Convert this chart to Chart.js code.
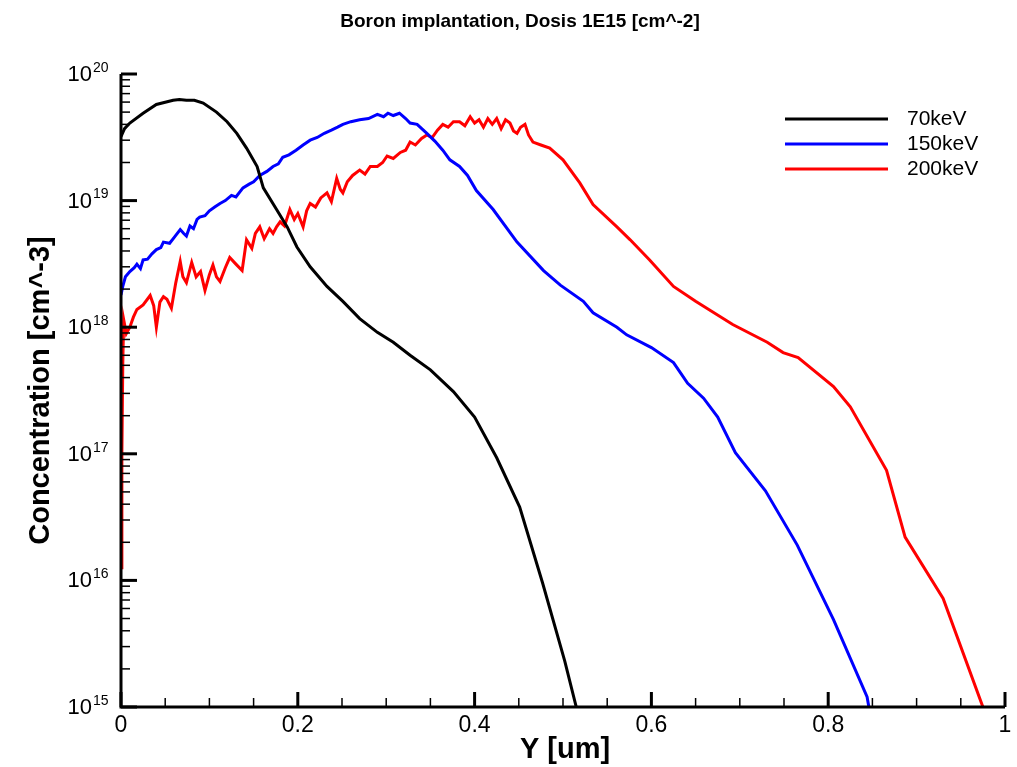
<!DOCTYPE html>
<html>
<head>
<meta charset="utf-8">
<title>Boron implantation</title>
<script src="https://cdn.jsdelivr.net/npm/chart.js@4.4.0/dist/chart.umd.min.js"></script>
<style>
  html, body { margin: 0; padding: 0; background: #fff; }
  canvas { display: block; }
</style>
</head>
<body>
<canvas id="profile-chart" width="1017" height="767"></canvas>
<script>
// depth Y [um] and concentration [cm^-3]
const depth70 = [0, 0.004, 0.01, 0.025, 0.04, 0.059, 0.066, 0.074, 0.083, 0.093, 0.108, 0.12, 0.131, 0.142, 0.154, 0.161, 0.176, 0.188, 0.199, 0.214, 0.233, 0.251, 0.27, 0.29, 0.308, 0.327, 0.35, 0.376, 0.40, 0.425, 0.451, 0.477, 0.502, 0.515];
const conc70 = [3.2e19, 3.7e19, 4.1e19, 4.9e19, 5.75e19, 6.2e19, 6.3e19, 6.2e19, 6.2e19, 5.9e19, 5.0e19, 4.2e19, 3.4e19, 2.6e19, 1.86e19, 1.26e19, 8.5e18, 6.2e18, 4.3e18, 3.0e18, 2.1e18, 1.6e18, 1.17e18, 9.1e17, 7.6e17, 6.0e17, 4.6e17, 3.1e17, 1.95e17, 9.3e16, 3.8e16, 9.5e15, 2.3e15, 1.0e15];

const depth150 = [0, 0.002, 0.005, 0.01, 0.015, 0.018, 0.022, 0.025, 0.03, 0.035, 0.04, 0.045, 0.048, 0.055, 0.06, 0.067, 0.071, 0.074, 0.078, 0.082, 0.086, 0.089, 0.095, 0.1, 0.106, 0.112, 0.118, 0.125, 0.13, 0.138, 0.145, 0.15, 0.157, 0.165, 0.172, 0.178, 0.183, 0.19, 0.198, 0.206, 0.214, 0.222, 0.23, 0.238, 0.245, 0.251, 0.26, 0.27, 0.28, 0.29, 0.297, 0.302, 0.308, 0.315, 0.322, 0.327, 0.335, 0.346, 0.355, 0.364, 0.372, 0.383, 0.392, 0.402, 0.421, 0.448, 0.478, 0.497, 0.523, 0.534, 0.561, 0.572, 0.6, 0.625, 0.641, 0.659, 0.675, 0.695, 0.729, 0.765, 0.806, 0.844, 0.846];
const conc150 = [1.8e18, 2.1e18, 2.5e18, 2.75e18, 2.95e18, 3.15e18, 2.9e18, 3.4e18, 3.45e18, 3.8e18, 4.1e18, 4.25e18, 4.7e18, 4.6e18, 5.1e18, 5.9e18, 5.5e18, 5.25e18, 6.3e18, 6.0e18, 7.1e18, 7.4e18, 7.6e18, 8.3e18, 8.9e18, 9.5e18, 1.0e19, 1.1e19, 1.07e19, 1.26e19, 1.35e19, 1.41e19, 1.58e19, 1.7e19, 1.86e19, 1.95e19, 2.2e19, 2.3e19, 2.5e19, 2.75e19, 3.0e19, 3.15e19, 3.4e19, 3.6e19, 3.8e19, 4.0e19, 4.2e19, 4.35e19, 4.45e19, 4.8e19, 4.6e19, 4.9e19, 4.7e19, 4.9e19, 4.45e19, 4.1e19, 4.0e19, 3.4e19, 2.95e19, 2.5e19, 2.1e19, 1.86e19, 1.58e19, 1.2e19, 8.5e18, 4.7e18, 2.8e18, 2.15e18, 1.6e18, 1.3e18, 1.0e18, 8.7e17, 6.9e17, 5.25e17, 3.6e17, 2.75e17, 1.95e17, 1.02e17, 5.1e16, 1.9e16, 4.9e15, 1.2e15, 1.0e15];

const depth200 = [0, 0.001, 0.002, 0.003, 0.006, 0.01, 0.014, 0.018, 0.025, 0.033, 0.037, 0.04, 0.044, 0.048, 0.052, 0.057, 0.062, 0.067, 0.07, 0.074, 0.08, 0.085, 0.09, 0.095, 0.1, 0.104, 0.108, 0.112, 0.118, 0.123, 0.13, 0.137, 0.142, 0.148, 0.152, 0.157, 0.162, 0.168, 0.172, 0.176, 0.18, 0.185, 0.191, 0.196, 0.2, 0.206, 0.21, 0.214, 0.22, 0.226, 0.233, 0.238, 0.244, 0.248, 0.251, 0.256, 0.262, 0.27, 0.276, 0.282, 0.29, 0.296, 0.301, 0.308, 0.316, 0.322, 0.327, 0.333, 0.34, 0.346, 0.352, 0.358, 0.364, 0.37, 0.376, 0.383, 0.389, 0.395, 0.4, 0.405, 0.41, 0.415, 0.42, 0.425, 0.43, 0.435, 0.44, 0.444, 0.448, 0.452, 0.457, 0.461, 0.466, 0.475, 0.485, 0.5, 0.519, 0.534, 0.561, 0.576, 0.598, 0.625, 0.65, 0.692, 0.731, 0.749, 0.766, 0.806, 0.825, 0.866, 0.887, 0.93, 0.975];
const conc200 = [1.26e16, 1.0e17, 5.0e17, 1.15e18, 8.9e17, 1.0e18, 1.2e18, 1.38e18, 1.5e18, 1.78e18, 1.48e18, 1.0e18, 1.58e18, 1.74e18, 1.66e18, 1.41e18, 2.25e18, 3.3e18, 2.5e18, 2.25e18, 3.25e18, 2.5e18, 2.75e18, 1.95e18, 2.6e18, 3.1e18, 2.5e18, 2.3e18, 2.95e18, 3.55e18, 3.15e18, 2.8e18, 4.9e18, 4.2e18, 5.5e18, 6.2e18, 5.0e18, 6.0e18, 5.5e18, 6.2e18, 6.8e18, 6.3e18, 8.5e18, 7.1e18, 7.9e18, 6.2e18, 8.3e18, 9.5e18, 8.9e18, 1.05e19, 1.15e19, 9.8e18, 1.5e19, 1.23e19, 1.15e19, 1.41e19, 1.58e19, 1.74e19, 1.62e19, 1.86e19, 1.86e19, 2.0e19, 2.25e19, 2.15e19, 2.4e19, 2.5e19, 2.9e19, 2.75e19, 3.1e19, 3.3e19, 3.15e19, 3.6e19, 4.0e19, 3.8e19, 4.2e19, 4.2e19, 3.9e19, 4.6e19, 4.1e19, 4.35e19, 3.8e19, 4.45e19, 4.0e19, 4.45e19, 3.7e19, 4.35e19, 4.1e19, 3.55e19, 3.4e19, 3.8e19, 4.0e19, 3.3e19, 2.9e19, 2.75e19, 2.6e19, 2.1e19, 1.38e19, 9.3e18, 6.2e18, 4.9e18, 3.4e18, 2.1e18, 1.6e18, 1.05e18, 7.6e17, 6.3e17, 5.75e17, 3.4e17, 2.35e17, 7.4e16, 2.2e16, 7.2e15, 1.0e15];

const seriesLabels = ["70keV", "150keV", "200keV"];
const seriesColors = ["#000000", "#0000ff", "#ff0000"];

const yExponents = [15, 16, 17, 18, 19, 20];
const xTickValues = [0, 0.2, 0.4, 0.6, 0.8, 1];
const xTickLabels = ["0", "0.2", "0.4", "0.6", "0.8", "1"];

const FONT = '"Liberation Sans", Arial, Helvetica, sans-serif';

const toPoints = (xs, ys) => xs.map((x, i) => ({ x: x, y: ys[i] }));

// axis lines, inward ticks, labels, titles, legend
const tecplotLook = {
  id: "tecplotLook",
  afterDatasetsDraw(chart) {
    const ctx = chart.ctx;
    const area = chart.chartArea;
    const xs = chart.scales.x;
    const ys = chart.scales.y;
    ctx.save();
    ctx.strokeStyle = "#000";
    ctx.lineCap = "butt";

    // y ticks (major + 2..9 minor)
    yExponents.forEach((e) => {
      const yp = ys.getPixelForValue(Math.pow(10, e));
      ctx.lineWidth = 3;
      ctx.beginPath();
      ctx.moveTo(area.left, yp);
      ctx.lineTo(area.left + 16, yp);
      ctx.stroke();
      if (e < 20) {
        ctx.lineWidth = 1.5;
        for (let m = 2; m <= 9; m++) {
          const ym = ys.getPixelForValue(m * Math.pow(10, e));
          ctx.beginPath();
          ctx.moveTo(area.left, ym);
          ctx.lineTo(area.left + 9, ym);
          ctx.stroke();
        }
      }
    });

    // x ticks: major every 0.2, minor every 0.05
    for (let i = 0; i <= 20; i++) {
      const v = i * 0.05;
      const xp = xs.getPixelForValue(v);
      const major = i % 4 === 0;
      ctx.lineWidth = major ? 3 : 1.5;
      ctx.beginPath();
      ctx.moveTo(xp, area.bottom);
      ctx.lineTo(xp, area.bottom - (major ? 15 : 9));
      ctx.stroke();
    }

    // axis lines
    ctx.lineWidth = 3;
    ctx.beginPath();
    ctx.moveTo(area.left, area.top);
    ctx.lineTo(area.left, area.bottom);
    ctx.lineTo(area.right, area.bottom);
    ctx.stroke();
    ctx.restore();
  },
  afterDraw(chart) {
    const ctx = chart.ctx;
    const area = chart.chartArea;
    const xs = chart.scales.x;
    const ys = chart.scales.y;
    ctx.save();
    ctx.fillStyle = "#000";

    // y tick labels 10^n
    yExponents.forEach((e) => {
      const yp = ys.getPixelForValue(Math.pow(10, e));
      ctx.font = "22px " + FONT;
      ctx.textAlign = "right";
      ctx.textBaseline = "middle";
      ctx.fillText("10", 92, yp + 1);
      ctx.font = "14px " + FONT;
      ctx.textAlign = "left";
      ctx.fillText(String(e), 93, yp - 6);
    });

    // x tick labels
    ctx.font = "23px " + FONT;
    ctx.textAlign = "center";
    ctx.textBaseline = "middle";
    xTickValues.forEach((v, i) => {
      ctx.fillText(xTickLabels[i], xs.getPixelForValue(v), 726);
    });

    // titles
    ctx.font = "bold 19px " + FONT;
    ctx.fillText("Boron implantation, Dosis 1E15 [cm^-2]", 520, 22);
    ctx.font = "bold 29px " + FONT;
    ctx.fillText("Y [um]", 565, 750);
    ctx.save();
    ctx.translate(41, (area.top + area.bottom) / 2);
    ctx.rotate(-Math.PI / 2);
    ctx.fillText("Concentration [cm^-3]", 0, 0);
    ctx.restore();

    // legend
    const legendY = [119, 144, 169];
    chart.data.datasets.forEach((ds, i) => {
      ctx.strokeStyle = ds.borderColor;
      ctx.lineWidth = 3;
      ctx.beginPath();
      ctx.moveTo(785, legendY[i]);
      ctx.lineTo(888, legendY[i]);
      ctx.stroke();
      ctx.fillStyle = "#000";
      ctx.font = "21px " + FONT;
      ctx.textAlign = "left";
      ctx.textBaseline = "middle";
      ctx.fillText(ds.label, 907, legendY[i]);
    });
    ctx.restore();
  },
};

const datasets = [
  toPoints(depth70, conc70),
  toPoints(depth150, conc150),
  toPoints(depth200, conc200),
].map((pts, i) => ({
  label: seriesLabels[i],
  data: pts,
  borderColor: seriesColors[i],
  backgroundColor: seriesColors[i],
  borderWidth: 3,
  pointRadius: 0,
  tension: 0,
  fill: false,
}));

const ctx = document.getElementById("profile-chart").getContext("2d");
new Chart(ctx, {
  type: "line",
  data: { datasets: datasets },
  options: {
    responsive: false,
    animation: false,
    events: [],
    layout: { padding: { top: 74, right: 12, left: 0, bottom: 0 } },
    plugins: {
      legend: { display: false },
      title: { display: false },
      tooltip: { enabled: false },
    },
    scales: {
      x: {
        type: "linear",
        min: 0,
        max: 1,
        grid: { display: false },
        border: { display: false },
        ticks: { display: false },
        afterFit: (s) => { s.height = 60; },
      },
      y: {
        type: "logarithmic",
        min: 1e15,
        max: 1e20,
        grid: { display: false },
        border: { display: false },
        ticks: { display: false },
        afterFit: (s) => { s.width = 121; },
      },
    },
  },
  plugins: [tecplotLook],
});
</script>
</body>
</html>
